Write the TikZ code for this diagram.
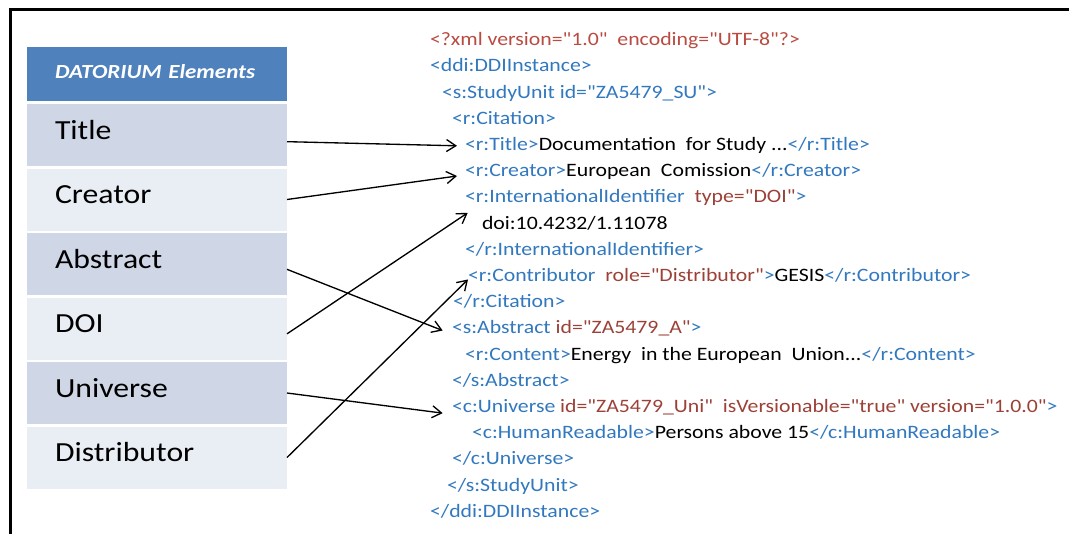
\documentclass[tikz,border=0pt]{standalone}
\usepackage{fontspec}
\setmainfont[FakeStretch=1.15, Ligatures=TeXOff]{Carlito}
\usetikzlibrary{arrows.meta}

\definecolor{headblue}{RGB}{79,129,189}
\definecolor{rowdark}{RGB}{207,215,230}
\definecolor{rowlight}{RGB}{233,237,244}
\definecolor{tagblue}{RGB}{50,120,190}
\definecolor{attrbrown}{RGB}{155,65,55}
\definecolor{declred}{RGB}{185,75,65}

\newcommand{\xtag}[1]{\textcolor{tagblue}{#1}}
\newcommand{\xattr}[1]{\textcolor{attrbrown}{#1}}
\newcommand{\xdecl}[1]{\textcolor{declred}{#1}}

\tikzset{
  elem/.style={anchor=north west, minimum width=195pt, minimum height=46.5pt,
    text width=153pt, inner xsep=21pt, inner ysep=0pt, outer sep=0pt, align=left,
    font=\fontsize{20.7pt}{24pt}\selectfont, text height=13pt, text depth=7pt},
  elemhead/.style={elem, minimum height=40.5pt, fill=headblue, text=white,
    font=\fontsize{15pt}{18pt}\selectfont\bfseries\itshape, text height=10pt, text depth=3pt},
  xmlline/.style={anchor=west, inner sep=0pt, outer sep=0pt,
    font=\fontsize{14.2pt}{17pt}\selectfont, text height=10pt, text depth=3pt},
  link/.style={line width=1pt, -{Straight Barb[length=7pt,width=9pt]}}
}

\begin{document}
\begin{tikzpicture}[x=0.75pt, y=-0.75pt]
  \useasboundingbox (0,0) rectangle (1069,533);
  % frame (only top and left edge are visible)
  \draw[line width=2.25pt] (10,540) -- (10,9) -- (1075,9);

  % DATORIUM elements table
  \node[elemhead] (head) at (27,47) {DATORIUM Elements};
  \node[elem, fill=rowdark]  (title)   at (27,104)   {Title};
  \node[elem, fill=rowlight] (creator) at (27,168.5) {Creator};
  \node[elem, fill=rowdark]  (abstract) at (27,233)  {Abstract};
  \node[elem, fill=rowlight] (doi)     at (27,297.5) {DOI};
  \node[elem, fill=rowdark]  (universe) at (27,362)  {Universe};
  \node[elem, fill=rowlight] (distrib) at (27,426.5) {Distributor};

  % DDI XML listing
  \node[xmlline] (xmldecl)  at (430,41)    {\xdecl{<?xml version="1.0"~ encoding="UTF-8"?>}};
  \node[xmlline] (ddi)      at (430,67.2)  {\xtag{<ddi:DDIInstance>}};
  \node[xmlline] (study)    at (442,93.4)  {\xtag{<s:StudyUnit id="ZA5479\_SU">}};
  \node[xmlline] (citation) at (452,119.6) {\xtag{<r:Citation>}};
  \node[xmlline] (xtitle)   at (465,145.8) {\xtag{<r:Title>}Documentation~ for Study ...\xtag{</r:Title>}};
  \node[xmlline] (xcreator) at (465,172)   {\xtag{<r:Creator>}European~ Comission\xtag{</r:Creator>}};
  \node[xmlline] (xintid)   at (465,198.2) {\xtag{<r:InternationalIdentifier}~ \xattr{type="DOI"}\xtag{>}};
  \node[xmlline] (xdoi)     at (482,224.4) {doi:10.4232/1.11078};
  \node[xmlline] (xintidend) at (465,250.6) {\xtag{</r:InternationalIdentifier>}};
  \node[xmlline] (xcontrib) at (468,276.8) {\xtag{<r:Contributor}~ \xattr{role="Distributor"}\xtag{>}GESIS\xtag{</r:Contributor>}};
  \node[xmlline] (citationend) at (453,303) {\xtag{</r:Citation>}};
  \node[xmlline] (xabstract) at (452,329.2) {\xtag{<s:Abstract} \xattr{id="ZA5479\_A"}\xtag{>}};
  \node[xmlline] (xcontent) at (465,355.4) {\xtag{<r:Content>}Energy~ in the European~ Union...\xtag{</r:Content>}};
  \node[xmlline] (abstractend) at (452,381.6) {\xtag{</s:Abstract>}};
  \node[xmlline] (xuniverse) at (452,407.8) {\xtag{<c:Universe} \xattr{id="ZA5479\_Uni"~ isVersionable="true" version="1.0.0"}\xtag{>}};
  \node[xmlline] (xhuman)   at (472,434)   {\xtag{<c:HumanReadable>}Persons above 15\xtag{</c:HumanReadable>}};
  \node[xmlline] (universeend) at (452,460.2) {\xtag{</c:Universe>}};
  \node[xmlline] (studyend) at (447,486.4) {\xtag{</s:StudyUnit>}};
  \node[xmlline] (ddiend)   at (430,512.6) {\xtag{</ddi:DDIInstance>}};

  % mapping
  \draw[link] ([yshift=-5pt]title.east) -- ([xshift=-6pt]xtitle.west);
  \draw[link] (creator.east) -- ([xshift=-6pt,yshift=-3pt]xcreator.west);
  \draw[link] ([yshift=-4pt]abstract.east) -- ([xshift=-7pt,yshift=-1pt]xabstract.west);
  \draw[link] ([yshift=-4pt]doi.east) -- ([xshift=2pt,yshift=-11pt]xintid.west);
  \draw[link] (universe.east) -- ([xshift=-7pt,yshift=-4pt]xuniverse.west);
  \draw[link] (distrib.east) -- ([yshift=-2pt]xcontrib.west);
\end{tikzpicture}
\end{document}
